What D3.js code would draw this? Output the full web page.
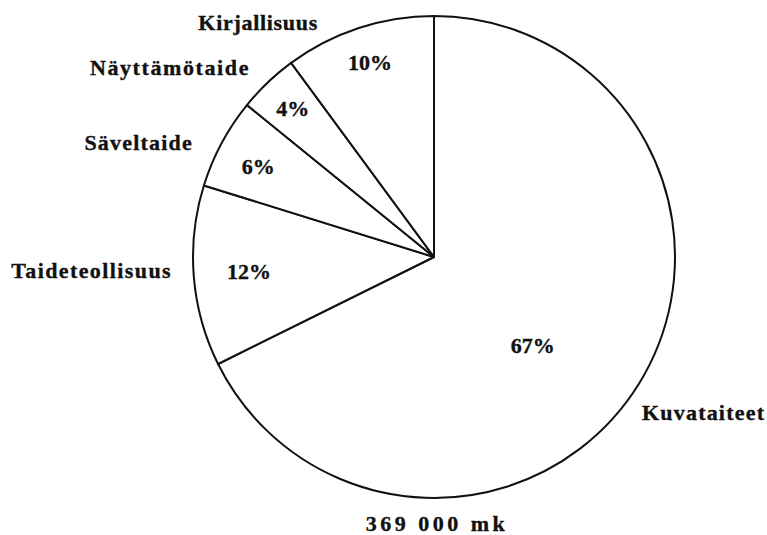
<!DOCTYPE html>
<html>
<head>
<meta charset="utf-8">
<script src="https://cdn.jsdelivr.net/npm/d3@7"></script>
<style>
  html, body { margin: 0; padding: 0; background: #fff; }
  text { font-family: "Liberation Serif", "Times New Roman", serif; fill: #111; stroke: #111; stroke-width: 0.35; }
</style>
</head>
<body>
<div id="chart"></div>
<script>
// slices, clockwise from 12 o'clock
const categories = ["Kuvataiteet", "Taideteollisuus", "Säveltaide", "Näyttämötaide", "Kirjallisuus"];
const shares = [67, 12, 6, 4, 10];
const totalLabel = "369 000 mk";

document.addEventListener("DOMContentLoaded", () => {
  const width = 767;
  const height = 535;
  const cx = 434, cy = 257, r = 241;

  const svg = d3.select("#chart")
    .append("svg")
    .attr("width", width)
    .attr("height", height)
    .attr("viewBox", `0 0 ${width} ${height}`);

  const g = svg.append("g").attr("transform", `translate(${cx},${cy})`);

  const data = categories.map((c, i) => ({ name: c, value: shares[i] }));
  const pie = d3.pie().sort(null).value((d) => d.value);
  const arcs = pie(data);
  const arc = d3.arc().innerRadius(0).outerRadius(r);

  g.selectAll("path.slice")
    .data(arcs)
    .join("path")
    .attr("class", "slice")
    .attr("d", arc)
    .attr("fill", "#fff")
    .attr("stroke", "#111")
    .attr("stroke-width", 2)
    .attr("stroke-linejoin", "round");

  // percent labels inside the slices (radius as fraction of r, angle nudge in degrees)
  const pctPlace = [[0.55, 10], [0.77, 0], [0.82, -1], [0.85, 0], [0.85, 0]];
  g.selectAll("text.pct")
    .data(arcs)
    .join("text")
    .attr("class", "pct")
    .attr("text-anchor", "middle")
    .attr("dy", "0.35em")
    .attr("font-size", 22)
    .attr("font-weight", "bold")
    .attr("x", (d, i) => {
      const a = (d.startAngle + d.endAngle) / 2 + (pctPlace[i][1] * Math.PI) / 180;
      return Math.sin(a) * r * pctPlace[i][0];
    })
    .attr("y", (d, i) => {
      const a = (d.startAngle + d.endAngle) / 2 + (pctPlace[i][1] * Math.PI) / 180;
      return -Math.cos(a) * r * pctPlace[i][0];
    })
    .text((d) => d.data.value + "%");

  // category names outside the circle (offset from centre, anchor, letter spacing)
  const namePlace = [
    [208, 163, "start", 1.2],
    [-262, 21, "end", 1.4],
    [-241, -107, "end", 1.2],
    [-184, -182, "end", 1.6],
    [-116, -227, "end", 0.7]
  ];
  g.selectAll("text.name")
    .data(arcs)
    .join("text")
    .attr("class", "name")
    .attr("font-size", 22)
    .attr("font-weight", "bold")
    .attr("letter-spacing", (d, i) => namePlace[i][3])
    .attr("text-anchor", (d, i) => namePlace[i][2])
    .attr("x", (d, i) => namePlace[i][0])
    .attr("y", (d, i) => namePlace[i][1])
    .text((d) => d.data.name);

  svg.append("text")
    .attr("x", cx + 3)
    .attr("y", 531)
    .attr("text-anchor", "middle")
    .attr("font-size", 22)
    .attr("font-weight", "bold")
    .attr("letter-spacing", 3.5)
    .text(totalLabel);
});
</script>
</body>
</html>
